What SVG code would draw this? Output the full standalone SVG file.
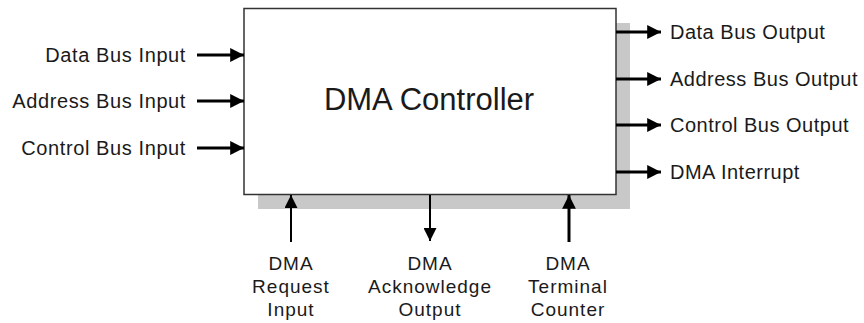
<svg xmlns="http://www.w3.org/2000/svg" width="864" height="323" viewBox="0 0 864 323">
<style>
text{font-family:"Liberation Sans",Arial,sans-serif;fill:#1a1a1a}
.l{font-size:20px;text-anchor:end;letter-spacing:0.6px}
.r{font-size:20px;letter-spacing:0.5px}
.b{font-size:19px;text-anchor:middle;letter-spacing:1px}
.w{stroke:#000;fill:none}
</style>
<defs>
<marker id="ah" viewBox="0 0 10 10" refX="10" refY="5" markerWidth="5" markerHeight="4.6" markerUnits="strokeWidth" orient="auto"><path d="M0,0L10,5L0,10z" fill="#000"/></marker>
<marker id="ah2" viewBox="0 0 10 10" refX="10" refY="5" markerWidth="7" markerHeight="6.5" markerUnits="strokeWidth" orient="auto"><path d="M0,0L10,5L0,10z" fill="#000"/></marker>
</defs>
<g id="dma">
<rect x="258" y="23" width="372" height="186" fill="#c8c8c8"/>
<rect x="244" y="8.5" width="372" height="186" fill="#fff" stroke="#333" stroke-width="1.5"/>
<text x="429" y="110" font-size="31" text-anchor="middle">DMA Controller</text>
</g>
<g id="connectors">
<line class="w" x1="197" y1="55" x2="244" y2="55" stroke-width="3" marker-end="url(#ah)"/>
<line class="w" x1="197" y1="101" x2="244" y2="101" stroke-width="3" marker-end="url(#ah)"/>
<line class="w" x1="197" y1="148" x2="244" y2="148" stroke-width="3" marker-end="url(#ah)"/>
<line class="w" x1="616" y1="32" x2="661" y2="32" stroke-width="3" marker-end="url(#ah)"/>
<line class="w" x1="616" y1="79" x2="661" y2="79" stroke-width="3" marker-end="url(#ah)"/>
<line class="w" x1="616" y1="125" x2="661" y2="125" stroke-width="3" marker-end="url(#ah)"/>
<line class="w" x1="616" y1="172" x2="661" y2="172" stroke-width="3" marker-end="url(#ah)"/>
<line class="w" x1="291" y1="242" x2="291" y2="195" stroke-width="2" marker-end="url(#ah2)"/>
<line class="w" x1="430" y1="195" x2="430" y2="241" stroke-width="2" marker-end="url(#ah2)"/>
<line class="w" x1="569" y1="242" x2="569" y2="195" stroke-width="3" marker-end="url(#ah)"/>
</g>
<g id="inputs">
<text class="l" x="186" y="62">Data Bus Input</text>
<text class="l" x="186" y="108">Address Bus Input</text>
<text class="l" x="186" y="155">Control Bus Input</text>
</g>
<g id="outputs">
<text class="r" x="670" y="39">Data Bus Output</text>
<text class="r" x="670" y="86">Address Bus Output</text>
<text class="r" x="670" y="132">Control Bus Output</text>
<text class="r" x="670" y="179">DMA Interrupt</text>
</g>
<g id="bottom">
<text class="b" x="291" y="270">DMA</text>
<text class="b" x="291" y="293">Request</text>
<text class="b" x="291" y="316">Input</text>
<text class="b" x="430" y="270">DMA</text>
<text class="b" x="430" y="293">Acknowledge</text>
<text class="b" x="430" y="316">Output</text>
<text class="b" x="568" y="270">DMA</text>
<text class="b" x="568" y="293">Terminal</text>
<text class="b" x="568" y="316">Counter</text>
</g>
</svg>
